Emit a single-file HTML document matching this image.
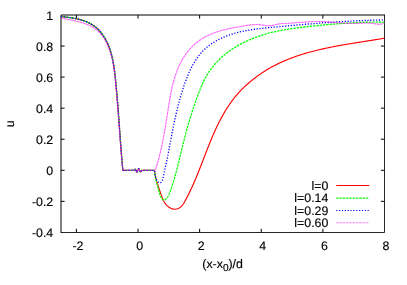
<!DOCTYPE html>
<html><head><meta charset="utf-8"><title>plot</title>
<style>
html,body{margin:0;padding:0;background:#fff;}
svg{display:block}
text{font-family:"Liberation Sans",sans-serif;font-size:12.35px;fill:#000;stroke:#000;stroke-width:0.15;text-rendering:geometricPrecision}
svg{will-change:transform;opacity:0.999}
.r{stroke:#ff0000;stroke-width:1.15;fill:none;stroke-linejoin:round}
.g{stroke:#00ff00;stroke-width:1.3;fill:none;stroke-dasharray:2.3 1.0;stroke-linejoin:round}
.b{stroke:#0000ff;stroke-width:1.3;fill:none;stroke-dasharray:1.2 1.65;stroke-linejoin:round}
.m{stroke:#ff00ff;stroke-width:1.1;fill:none;stroke-dasharray:2.2 1.1;stroke-linejoin:round;stroke-opacity:0.45}
.m0{stroke:#ff00ff;stroke-width:1.1;fill:none;stroke-linejoin:round;stroke-opacity:0.3}
.m1{stroke:#ff00ff;stroke-width:1.1;fill:none;stroke-opacity:0.1}
.f{stroke:#000;stroke-width:1;fill:none}
.f2{stroke:#000;stroke-width:0.85;fill:none}
.lg{stroke-width:1.05}
</style></head>
<body>
<svg width="407" height="285" viewBox="0 0 407 285">
<rect width="407" height="285" fill="#fff"/>
<path class="f" d="M384.5,15.0H61.0V232.4"/><path class="f2" d="M60.55,232.5H384.5V14.5"/>
<path class="f" d="M61.0,46.06h3.6M384.5,46.06h-3.6M61.0,77.11h3.6M384.5,77.11h-3.6M61.0,108.17h3.6M384.5,108.17h-3.6M61.0,139.23h3.6M384.5,139.23h-3.6M61.0,170.29h3.6M384.5,170.29h-3.6M61.0,201.34h3.6M384.5,201.34h-3.6M76.40,232.4v-3.6M76.40,15.0v3.6M138.02,232.4v-3.6M138.02,15.0v3.6M199.64,232.4v-3.6M199.64,15.0v3.6M261.26,232.4v-3.6M261.26,15.0v3.6M322.88,232.4v-3.6M322.88,15.0v3.6"/>
<path class="r" d="M61.00,16.40 L61.98,16.64 L62.94,16.74 L63.92,16.85 L64.90,16.96 L65.89,17.07 L66.88,17.20 L67.88,17.32 L68.88,17.46 L69.89,17.60 L70.90,17.74 L71.91,17.90 L72.92,18.07 L73.93,18.25 L74.93,18.44 L75.94,18.64 L76.94,18.85 L77.95,19.08 L78.94,19.32 L79.93,19.57 L80.92,19.84 L81.90,20.13 L82.87,20.44 L83.83,20.76 L84.79,21.10 L85.73,21.46 L86.67,21.84 L87.59,22.24 L88.50,22.67 L89.40,23.11 L90.28,23.58 L91.15,24.07 L92.00,24.59 L92.84,25.13 L93.66,25.69 L94.47,26.27 L95.26,26.87 L96.03,27.50 L96.78,28.15 L97.52,28.82 L98.23,29.51 L98.93,30.22 L99.61,30.95 L100.27,31.70 L100.91,32.47 L101.53,33.26 L102.14,34.06 L102.73,34.88 L103.30,35.71 L103.85,36.55 L104.38,37.40 L104.90,38.27 L105.40,39.14 L105.88,40.03 L106.35,40.92 L106.80,41.82 L107.24,42.73 L107.66,43.64 L108.06,44.55 L108.45,45.48 L108.82,46.41 L109.18,47.34 L109.53,48.28 L109.86,49.22 L110.18,50.17 L110.49,51.12 L110.78,52.08 L111.06,53.04 L111.33,54.01 L111.59,54.98 L111.84,55.95 L112.08,56.93 L112.31,57.91 L112.53,58.90 L112.74,59.88 L112.94,60.88 L113.13,61.87 L113.31,62.86 L113.49,63.86 L113.66,64.86 L113.82,65.86 L113.97,66.87 L114.12,67.87 L114.26,68.88 L114.40,69.89 L114.53,70.90 L114.65,71.91 L114.78,72.92 L114.90,73.94 L115.01,74.95 L115.12,75.96 L115.23,76.98 L115.33,77.99 L115.44,79.00 L115.54,80.02 L115.64,81.03 L115.74,82.04 L115.84,83.05 L115.93,84.06 L116.03,85.07 L116.13,86.08 L116.22,87.09 L116.31,88.10 L116.40,89.10 L116.50,90.11 L116.59,91.12 L116.68,92.12 L116.76,93.13 L116.85,94.13 L116.94,95.14 L117.02,96.14 L117.11,97.15 L117.19,98.15 L117.28,99.15 L117.36,100.16 L117.44,101.16 L117.53,102.16 L117.61,103.16 L117.69,104.16 L117.77,105.16 L117.85,106.16 L117.93,107.16 L118.00,108.16 L118.08,109.16 L118.16,110.16 L118.24,111.16 L118.31,112.16 L118.39,113.16 L118.46,114.16 L118.54,115.16 L118.62,116.16 L118.69,117.16 L118.76,118.15 L118.84,119.15 L118.91,120.15 L118.99,121.15 L119.06,122.15 L119.13,123.15 L119.21,124.14 L119.28,125.14 L119.35,126.14 L119.43,127.14 L119.50,128.14 L119.57,129.14 L119.64,130.13 L119.72,131.13 L119.79,132.13 L119.86,133.13 L119.94,134.13 L120.01,135.13 L120.08,136.13 L120.16,137.13 L120.23,138.13 L120.30,139.13 L120.38,140.13 L120.45,141.13 L120.53,142.13 L120.60,143.13 L120.68,144.13 L120.75,145.14 L120.83,146.14 L120.90,147.14 L120.98,148.14 L121.06,149.15 L121.14,150.15 L121.21,151.15 L121.29,152.16 L121.37,153.16 L121.45,154.17 L121.53,155.18 L121.61,156.18 L121.69,157.19 L121.78,158.20 L121.86,159.21 L121.94,160.21 L122.03,161.22 L122.11,162.23 L122.20,163.24 L122.28,164.26 L122.37,165.27 L122.46,166.28 L122.55,167.29 L122.64,168.31 L122.73,169.32 L122.80,170.30 L133.90,170.30 L135.30,169.10 L136.90,172.30 L138.70,168.60 L140.50,172.00 L142.10,170.30 L154.40,170.30 L154.54,171.31 L154.68,172.35 L154.85,173.37 L155.02,174.37 L155.22,175.37 L155.43,176.35 L155.65,177.32 L155.88,178.29 L156.12,179.24 L156.38,180.19 L156.65,181.14 L156.92,182.08 L157.21,183.02 L157.50,183.95 L157.80,184.88 L158.11,185.82 L158.42,186.76 L158.74,187.69 L159.06,188.64 L159.38,189.59 L159.71,190.54 L160.04,191.50 L160.37,192.47 L160.71,193.45 L161.04,194.43 L161.39,195.42 L161.74,196.40 L162.12,197.38 L162.51,198.35 L162.92,199.31 L163.36,200.24 L163.83,201.16 L164.33,202.05 L164.87,202.91 L165.45,203.74 L166.07,204.54 L166.74,205.29 L167.47,206.00 L168.24,206.66 L169.07,207.26 L169.94,207.80 L170.84,208.26 L171.77,208.65 L172.72,208.94 L173.69,209.13 L174.66,209.21 L175.62,209.18 L176.57,209.04 L177.49,208.79 L178.36,208.45 L179.18,208.03 L179.95,207.52 L180.68,206.94 L181.36,206.30 L182.01,205.59 L182.62,204.83 L183.20,204.03 L183.76,203.20 L184.29,202.33 L184.81,201.44 L185.31,200.54 L185.80,199.62 L186.29,198.71 L186.77,197.79 L187.25,196.87 L187.72,195.96 L188.19,195.04 L188.65,194.12 L189.10,193.20 L189.55,192.27 L190.00,191.35 L190.44,190.43 L190.88,189.50 L191.31,188.58 L191.74,187.65 L192.16,186.72 L192.58,185.80 L193.00,184.87 L193.41,183.94 L193.82,183.01 L194.22,182.08 L194.63,181.15 L195.02,180.22 L195.42,179.29 L195.81,178.35 L196.20,177.42 L196.59,176.49 L196.97,175.55 L197.36,174.62 L197.74,173.69 L198.11,172.75 L198.49,171.82 L198.86,170.88 L199.24,169.95 L199.61,169.01 L199.97,168.08 L200.34,167.14 L200.71,166.20 L201.07,165.27 L201.44,164.33 L201.80,163.40 L202.16,162.46 L202.52,161.53 L202.88,160.59 L203.24,159.66 L203.60,158.72 L203.96,157.79 L204.32,156.85 L204.68,155.92 L205.04,154.98 L205.41,154.05 L205.77,153.12 L206.13,152.18 L206.49,151.25 L206.85,150.32 L207.22,149.39 L207.58,148.46 L207.95,147.53 L208.32,146.60 L208.69,145.67 L209.06,144.74 L209.44,143.81 L209.81,142.89 L210.19,141.96 L210.57,141.04 L210.95,140.11 L211.33,139.19 L211.72,138.27 L212.11,137.34 L212.50,136.42 L212.90,135.50 L213.29,134.58 L213.70,133.67 L214.10,132.75 L214.51,131.83 L214.92,130.92 L215.34,130.01 L215.75,129.09 L216.18,128.18 L216.60,127.27 L217.04,126.36 L217.47,125.46 L217.91,124.55 L218.36,123.65 L218.81,122.75 L219.26,121.85 L219.72,120.95 L220.18,120.05 L220.65,119.16 L221.12,118.27 L221.60,117.38 L222.09,116.49 L222.58,115.61 L223.07,114.73 L223.57,113.85 L224.08,112.98 L224.59,112.11 L225.11,111.24 L225.63,110.38 L226.16,109.52 L226.70,108.67 L227.24,107.81 L227.78,106.97 L228.34,106.13 L228.90,105.29 L229.47,104.46 L230.04,103.63 L230.62,102.80 L231.21,101.99 L231.80,101.17 L232.40,100.37 L233.01,99.57 L233.62,98.77 L234.25,97.98 L234.87,97.20 L235.51,96.42 L236.16,95.64 L236.81,94.88 L237.47,94.12 L238.13,93.37 L238.80,92.62 L239.48,91.88 L240.17,91.14 L240.86,90.41 L241.56,89.69 L242.26,88.97 L242.98,88.26 L243.69,87.55 L244.42,86.86 L245.15,86.16 L245.88,85.48 L246.63,84.80 L247.37,84.12 L248.13,83.46 L248.89,82.79 L249.65,82.14 L250.42,81.49 L251.20,80.85 L251.98,80.21 L252.76,79.58 L253.56,78.96 L254.35,78.34 L255.15,77.73 L255.96,77.12 L256.77,76.52 L257.59,75.93 L258.41,75.35 L259.23,74.77 L260.06,74.19 L260.89,73.63 L261.73,73.07 L262.57,72.51 L263.42,71.96 L264.27,71.42 L265.12,70.89 L265.98,70.36 L266.84,69.84 L267.70,69.32 L268.57,68.81 L269.44,68.31 L270.32,67.81 L271.19,67.32 L272.07,66.84 L272.96,66.36 L273.85,65.89 L274.74,65.43 L275.63,64.97 L276.52,64.52 L277.42,64.07 L278.32,63.64 L279.23,63.20 L280.13,62.78 L281.04,62.36 L281.95,61.94 L282.86,61.54 L283.78,61.13 L284.70,60.74 L285.62,60.35 L286.54,59.96 L287.47,59.58 L288.40,59.21 L289.33,58.84 L290.26,58.48 L291.19,58.12 L292.13,57.77 L293.07,57.42 L294.01,57.08 L294.95,56.74 L295.90,56.41 L296.84,56.08 L297.79,55.76 L298.74,55.44 L299.69,55.13 L300.65,54.82 L301.60,54.52 L302.56,54.22 L303.52,53.93 L304.48,53.64 L305.44,53.35 L306.41,53.07 L307.37,52.79 L308.34,52.52 L309.31,52.25 L310.28,51.98 L311.25,51.72 L312.22,51.46 L313.20,51.21 L314.17,50.96 L315.15,50.71 L316.12,50.47 L317.10,50.23 L318.08,49.99 L319.06,49.76 L320.05,49.53 L321.03,49.30 L322.01,49.08 L323.00,48.86 L323.99,48.64 L324.97,48.42 L325.96,48.21 L326.95,48.00 L327.94,47.80 L328.93,47.59 L329.92,47.39 L330.91,47.19 L331.90,47.00 L332.89,46.80 L333.89,46.61 L334.88,46.42 L335.88,46.23 L336.87,46.05 L337.87,45.86 L338.86,45.68 L339.86,45.50 L340.85,45.32 L341.85,45.15 L342.85,44.97 L343.84,44.80 L344.84,44.63 L345.84,44.46 L346.83,44.29 L347.83,44.12 L348.83,43.96 L349.82,43.79 L350.82,43.63 L351.82,43.47 L352.81,43.30 L353.81,43.14 L354.81,42.98 L355.80,42.82 L356.80,42.66 L357.79,42.51 L358.79,42.35 L359.78,42.19 L360.78,42.03 L361.77,41.88 L362.76,41.72 L363.76,41.57 L364.75,41.41 L365.74,41.25 L366.73,41.10 L367.72,40.94 L368.71,40.79 L369.70,40.63 L370.69,40.47 L371.67,40.32 L372.66,40.16 L373.65,40.00 L374.63,39.84 L375.61,39.68 L376.59,39.52 L377.58,39.36 L378.56,39.20 L379.53,39.04 L380.51,38.88 L381.49,38.71 L382.46,38.55 L383.44,38.38 L384.50,38.30"/>
<path class="g" d="M61.00,16.40 L61.98,16.64 L62.94,16.74 L63.92,16.85 L64.90,16.96 L65.89,17.07 L66.88,17.20 L67.88,17.32 L68.88,17.46 L69.89,17.60 L70.90,17.74 L71.91,17.90 L72.92,18.07 L73.93,18.25 L74.93,18.44 L75.94,18.64 L76.94,18.85 L77.95,19.08 L78.94,19.32 L79.93,19.57 L80.92,19.84 L81.90,20.13 L82.87,20.44 L83.83,20.76 L84.79,21.10 L85.73,21.46 L86.67,21.84 L87.59,22.24 L88.50,22.67 L89.40,23.11 L90.28,23.58 L91.15,24.07 L92.00,24.59 L92.84,25.13 L93.66,25.69 L94.47,26.27 L95.26,26.87 L96.03,27.50 L96.78,28.15 L97.52,28.82 L98.23,29.51 L98.93,30.22 L99.61,30.95 L100.27,31.70 L100.91,32.47 L101.53,33.26 L102.14,34.06 L102.73,34.88 L103.30,35.71 L103.85,36.55 L104.38,37.40 L104.90,38.27 L105.40,39.14 L105.88,40.03 L106.35,40.92 L106.80,41.82 L107.24,42.73 L107.66,43.64 L108.06,44.55 L108.45,45.48 L108.82,46.41 L109.18,47.34 L109.53,48.28 L109.86,49.22 L110.18,50.17 L110.49,51.12 L110.78,52.08 L111.06,53.04 L111.33,54.01 L111.59,54.98 L111.84,55.95 L112.08,56.93 L112.31,57.91 L112.53,58.90 L112.74,59.88 L112.94,60.88 L113.13,61.87 L113.31,62.86 L113.49,63.86 L113.66,64.86 L113.82,65.86 L113.97,66.87 L114.12,67.87 L114.26,68.88 L114.40,69.89 L114.53,70.90 L114.65,71.91 L114.78,72.92 L114.90,73.94 L115.01,74.95 L115.12,75.96 L115.23,76.98 L115.33,77.99 L115.44,79.00 L115.54,80.02 L115.64,81.03 L115.74,82.04 L115.84,83.05 L115.93,84.06 L116.03,85.07 L116.13,86.08 L116.22,87.09 L116.31,88.10 L116.40,89.10 L116.50,90.11 L116.59,91.12 L116.68,92.12 L116.76,93.13 L116.85,94.13 L116.94,95.14 L117.02,96.14 L117.11,97.15 L117.19,98.15 L117.28,99.15 L117.36,100.16 L117.44,101.16 L117.53,102.16 L117.61,103.16 L117.69,104.16 L117.77,105.16 L117.85,106.16 L117.93,107.16 L118.00,108.16 L118.08,109.16 L118.16,110.16 L118.24,111.16 L118.31,112.16 L118.39,113.16 L118.46,114.16 L118.54,115.16 L118.62,116.16 L118.69,117.16 L118.76,118.15 L118.84,119.15 L118.91,120.15 L118.99,121.15 L119.06,122.15 L119.13,123.15 L119.21,124.14 L119.28,125.14 L119.35,126.14 L119.43,127.14 L119.50,128.14 L119.57,129.14 L119.64,130.13 L119.72,131.13 L119.79,132.13 L119.86,133.13 L119.94,134.13 L120.01,135.13 L120.08,136.13 L120.16,137.13 L120.23,138.13 L120.30,139.13 L120.38,140.13 L120.45,141.13 L120.53,142.13 L120.60,143.13 L120.68,144.13 L120.75,145.14 L120.83,146.14 L120.90,147.14 L120.98,148.14 L121.06,149.15 L121.14,150.15 L121.21,151.15 L121.29,152.16 L121.37,153.16 L121.45,154.17 L121.53,155.18 L121.61,156.18 L121.69,157.19 L121.78,158.20 L121.86,159.21 L121.94,160.21 L122.03,161.22 L122.11,162.23 L122.20,163.24 L122.28,164.26 L122.37,165.27 L122.46,166.28 L122.55,167.29 L122.64,168.31 L122.73,169.32 L122.80,170.30 L133.90,170.30 L135.30,169.10 L136.90,172.30 L138.70,168.60 L140.50,172.00 L142.10,170.30 L154.40,170.30 L154.50,171.30 L154.61,172.30 L154.74,173.30 L154.88,174.29 L155.04,175.29 L155.22,176.28 L155.40,177.27 L155.60,178.25 L155.81,179.24 L156.03,180.22 L156.26,181.20 L156.50,182.17 L156.74,183.15 L156.99,184.12 L157.24,185.09 L157.50,186.06 L157.76,187.02 L158.03,187.99 L158.29,188.95 L158.56,189.91 L158.82,190.86 L159.08,191.82 L159.35,192.77 L159.64,193.73 L159.96,194.71 L160.32,195.70 L160.74,196.71 L161.23,197.74 L161.79,198.72 L162.43,199.51 L163.16,199.97 L163.95,200.04 L164.78,199.77 L165.59,199.27 L166.36,198.62 L167.03,197.89 L167.63,197.10 L168.15,196.27 L168.62,195.40 L169.03,194.49 L169.41,193.56 L169.77,192.62 L170.12,191.67 L170.46,190.72 L170.79,189.76 L171.12,188.80 L171.44,187.85 L171.76,186.89 L172.08,185.93 L172.39,184.97 L172.69,184.00 L173.00,183.04 L173.30,182.07 L173.59,181.11 L173.88,180.14 L174.17,179.17 L174.45,178.20 L174.73,177.23 L175.01,176.26 L175.28,175.28 L175.55,174.31 L175.82,173.34 L176.09,172.36 L176.35,171.39 L176.61,170.41 L176.87,169.43 L177.12,168.46 L177.37,167.48 L177.63,166.50 L177.87,165.52 L178.12,164.54 L178.37,163.56 L178.61,162.58 L178.85,161.60 L179.09,160.62 L179.33,159.64 L179.57,158.66 L179.81,157.68 L180.05,156.70 L180.28,155.72 L180.52,154.74 L180.75,153.77 L180.99,152.79 L181.22,151.81 L181.46,150.83 L181.69,149.85 L181.93,148.87 L182.16,147.90 L182.40,146.92 L182.63,145.94 L182.87,144.97 L183.10,143.99 L183.34,143.02 L183.58,142.05 L183.82,141.07 L184.06,140.10 L184.30,139.13 L184.55,138.16 L184.79,137.19 L185.04,136.23 L185.29,135.26 L185.54,134.29 L185.79,133.33 L186.05,132.37 L186.30,131.41 L186.56,130.45 L186.82,129.49 L187.09,128.53 L187.36,127.57 L187.62,126.62 L187.90,125.66 L188.17,124.71 L188.45,123.76 L188.73,122.80 L189.01,121.85 L189.29,120.90 L189.58,119.95 L189.86,119.00 L190.16,118.05 L190.45,117.10 L190.74,116.16 L191.04,115.21 L191.34,114.26 L191.65,113.31 L191.95,112.36 L192.26,111.41 L192.57,110.47 L192.89,109.52 L193.20,108.57 L193.52,107.62 L193.84,106.67 L194.17,105.72 L194.49,104.77 L194.82,103.82 L195.15,102.87 L195.49,101.92 L195.82,100.96 L196.16,100.01 L196.51,99.05 L196.85,98.10 L197.20,97.14 L197.55,96.18 L197.90,95.23 L198.26,94.27 L198.62,93.31 L198.98,92.35 L199.35,91.39 L199.72,90.43 L200.10,89.47 L200.48,88.52 L200.87,87.57 L201.26,86.62 L201.66,85.67 L202.07,84.73 L202.49,83.80 L202.91,82.86 L203.34,81.94 L203.78,81.02 L204.23,80.10 L204.69,79.19 L205.16,78.29 L205.63,77.40 L206.12,76.51 L206.62,75.63 L207.13,74.77 L207.65,73.91 L208.19,73.06 L208.73,72.21 L209.28,71.38 L209.85,70.56 L210.43,69.74 L211.01,68.94 L211.61,68.14 L212.22,67.35 L212.83,66.57 L213.46,65.80 L214.10,65.04 L214.74,64.29 L215.40,63.54 L216.06,62.81 L216.74,62.08 L217.42,61.36 L218.11,60.65 L218.82,59.95 L219.53,59.26 L220.24,58.58 L220.97,57.90 L221.71,57.23 L222.45,56.57 L223.20,55.92 L223.96,55.28 L224.73,54.65 L225.50,54.02 L226.28,53.40 L227.07,52.80 L227.87,52.19 L228.67,51.60 L229.48,51.02 L230.29,50.44 L231.12,49.87 L231.95,49.31 L232.78,48.76 L233.62,48.22 L234.47,47.68 L235.32,47.15 L236.18,46.63 L237.05,46.12 L237.92,45.62 L238.79,45.12 L239.67,44.63 L240.56,44.15 L241.45,43.68 L242.34,43.21 L243.24,42.75 L244.15,42.30 L245.06,41.86 L245.97,41.43 L246.89,41.00 L247.81,40.58 L248.73,40.17 L249.66,39.76 L250.59,39.37 L251.52,38.98 L252.46,38.59 L253.40,38.22 L254.35,37.85 L255.29,37.49 L256.24,37.14 L257.19,36.79 L258.15,36.45 L259.10,36.12 L260.06,35.80 L261.02,35.48 L261.98,35.17 L262.95,34.87 L263.91,34.57 L264.88,34.29 L265.85,34.00 L266.82,33.73 L267.79,33.46 L268.76,33.20 L269.73,32.95 L270.70,32.70 L271.68,32.46 L272.65,32.22 L273.63,31.99 L274.61,31.76 L275.59,31.55 L276.57,31.33 L277.55,31.12 L278.53,30.92 L279.51,30.72 L280.49,30.53 L281.48,30.34 L282.46,30.16 L283.45,29.98 L284.44,29.81 L285.42,29.64 L286.41,29.47 L287.40,29.31 L288.39,29.15 L289.38,28.99 L290.37,28.84 L291.36,28.70 L292.35,28.55 L293.35,28.41 L294.34,28.27 L295.33,28.14 L296.33,28.00 L297.32,27.87 L298.32,27.75 L299.31,27.62 L300.31,27.50 L301.31,27.38 L302.30,27.26 L303.30,27.14 L304.30,27.02 L305.29,26.91 L306.29,26.80 L307.29,26.69 L308.29,26.57 L309.29,26.46 L310.28,26.36 L311.28,26.25 L312.28,26.14 L313.28,26.03 L314.28,25.93 L315.28,25.82 L316.28,25.72 L317.28,25.62 L318.28,25.51 L319.28,25.41 L320.28,25.31 L321.28,25.22 L322.28,25.12 L323.28,25.02 L324.28,24.92 L325.28,24.83 L326.28,24.74 L327.28,24.64 L328.28,24.55 L329.28,24.46 L330.28,24.38 L331.29,24.29 L332.29,24.20 L333.29,24.12 L334.29,24.03 L335.29,23.95 L336.30,23.87 L337.30,23.79 L338.30,23.72 L339.30,23.64 L340.30,23.56 L341.31,23.49 L342.31,23.42 L343.31,23.35 L344.32,23.28 L345.32,23.22 L346.32,23.15 L347.32,23.09 L348.33,23.03 L349.33,22.97 L350.33,22.91 L351.34,22.85 L352.34,22.80 L353.35,22.74 L354.35,22.69 L355.35,22.64 L356.36,22.60 L357.36,22.55 L358.37,22.51 L359.37,22.47 L360.37,22.43 L361.38,22.39 L362.38,22.36 L363.39,22.32 L364.39,22.29 L365.40,22.26 L366.40,22.24 L367.41,22.21 L368.41,22.19 L369.42,22.17 L370.42,22.15 L371.43,22.14 L372.43,22.13 L373.44,22.12 L374.44,22.11 L375.45,22.10 L376.46,22.10 L377.46,22.10 L378.47,22.10 L379.47,22.10 L380.48,22.11 L381.48,22.12 L382.49,22.13 L383.50,22.14 L384.50,22.10"/>
<path class="b" d="M61.00,16.40 L61.98,16.64 L62.94,16.74 L63.92,16.85 L64.90,16.96 L65.89,17.07 L66.88,17.20 L67.88,17.32 L68.88,17.46 L69.89,17.60 L70.90,17.74 L71.91,17.90 L72.92,18.07 L73.93,18.25 L74.93,18.44 L75.94,18.64 L76.94,18.85 L77.95,19.08 L78.94,19.32 L79.93,19.57 L80.92,19.84 L81.90,20.13 L82.87,20.44 L83.83,20.76 L84.79,21.10 L85.73,21.46 L86.67,21.84 L87.59,22.24 L88.50,22.67 L89.40,23.11 L90.28,23.58 L91.15,24.07 L92.00,24.59 L92.84,25.13 L93.66,25.69 L94.47,26.27 L95.26,26.87 L96.03,27.50 L96.78,28.15 L97.52,28.82 L98.23,29.51 L98.93,30.22 L99.61,30.95 L100.27,31.70 L100.91,32.47 L101.53,33.26 L102.14,34.06 L102.73,34.88 L103.30,35.71 L103.85,36.55 L104.38,37.40 L104.90,38.27 L105.40,39.14 L105.88,40.03 L106.35,40.92 L106.80,41.82 L107.24,42.73 L107.66,43.64 L108.06,44.55 L108.45,45.48 L108.82,46.41 L109.18,47.34 L109.53,48.28 L109.86,49.22 L110.18,50.17 L110.49,51.12 L110.78,52.08 L111.06,53.04 L111.33,54.01 L111.59,54.98 L111.84,55.95 L112.08,56.93 L112.31,57.91 L112.53,58.90 L112.74,59.88 L112.94,60.88 L113.13,61.87 L113.31,62.86 L113.49,63.86 L113.66,64.86 L113.82,65.86 L113.97,66.87 L114.12,67.87 L114.26,68.88 L114.40,69.89 L114.53,70.90 L114.65,71.91 L114.78,72.92 L114.90,73.94 L115.01,74.95 L115.12,75.96 L115.23,76.98 L115.33,77.99 L115.44,79.00 L115.54,80.02 L115.64,81.03 L115.74,82.04 L115.84,83.05 L115.93,84.06 L116.03,85.07 L116.13,86.08 L116.22,87.09 L116.31,88.10 L116.40,89.10 L116.50,90.11 L116.59,91.12 L116.68,92.12 L116.76,93.13 L116.85,94.13 L116.94,95.14 L117.02,96.14 L117.11,97.15 L117.19,98.15 L117.28,99.15 L117.36,100.16 L117.44,101.16 L117.53,102.16 L117.61,103.16 L117.69,104.16 L117.77,105.16 L117.85,106.16 L117.93,107.16 L118.00,108.16 L118.08,109.16 L118.16,110.16 L118.24,111.16 L118.31,112.16 L118.39,113.16 L118.46,114.16 L118.54,115.16 L118.62,116.16 L118.69,117.16 L118.76,118.15 L118.84,119.15 L118.91,120.15 L118.99,121.15 L119.06,122.15 L119.13,123.15 L119.21,124.14 L119.28,125.14 L119.35,126.14 L119.43,127.14 L119.50,128.14 L119.57,129.14 L119.64,130.13 L119.72,131.13 L119.79,132.13 L119.86,133.13 L119.94,134.13 L120.01,135.13 L120.08,136.13 L120.16,137.13 L120.23,138.13 L120.30,139.13 L120.38,140.13 L120.45,141.13 L120.53,142.13 L120.60,143.13 L120.68,144.13 L120.75,145.14 L120.83,146.14 L120.90,147.14 L120.98,148.14 L121.06,149.15 L121.14,150.15 L121.21,151.15 L121.29,152.16 L121.37,153.16 L121.45,154.17 L121.53,155.18 L121.61,156.18 L121.69,157.19 L121.78,158.20 L121.86,159.21 L121.94,160.21 L122.03,161.22 L122.11,162.23 L122.20,163.24 L122.28,164.26 L122.37,165.27 L122.46,166.28 L122.55,167.29 L122.64,168.31 L122.73,169.32 L122.80,170.30 L133.90,170.30 L135.30,169.10 L136.90,172.30 L138.70,168.60 L140.50,172.00 L142.10,170.30 L154.40,170.30 L154.59,171.15 L154.76,172.07 L154.91,173.06 L155.06,174.10 L155.23,175.18 L155.43,176.26 L155.68,177.34 L155.99,178.39 L156.36,179.39 L156.83,180.34 L157.40,181.20 L158.06,181.93 L158.78,182.49 L159.53,182.81 L160.25,182.83 L160.93,182.51 L161.53,181.91 L162.02,181.13 L162.40,180.23 L162.70,179.25 L162.96,178.22 L163.20,177.18 L163.43,176.15 L163.67,175.12 L163.90,174.09 L164.12,173.07 L164.35,172.06 L164.57,171.04 L164.79,170.04 L165.00,169.03 L165.22,168.03 L165.43,167.03 L165.64,166.04 L165.85,165.05 L166.06,164.06 L166.26,163.07 L166.46,162.08 L166.66,161.10 L166.86,160.12 L167.06,159.14 L167.26,158.16 L167.45,157.18 L167.65,156.21 L167.84,155.23 L168.03,154.25 L168.22,153.28 L168.41,152.30 L168.60,151.33 L168.79,150.35 L168.98,149.37 L169.17,148.40 L169.36,147.42 L169.54,146.44 L169.73,145.46 L169.92,144.49 L170.10,143.51 L170.29,142.53 L170.48,141.55 L170.66,140.58 L170.85,139.60 L171.04,138.62 L171.22,137.64 L171.41,136.67 L171.60,135.69 L171.79,134.71 L171.98,133.73 L172.17,132.76 L172.36,131.78 L172.55,130.80 L172.75,129.82 L172.94,128.85 L173.14,127.87 L173.33,126.89 L173.53,125.92 L173.73,124.94 L173.93,123.96 L174.14,122.99 L174.34,122.01 L174.55,121.03 L174.75,120.06 L174.96,119.08 L175.18,118.11 L175.39,117.13 L175.61,116.16 L175.82,115.18 L176.05,114.21 L176.27,113.24 L176.49,112.26 L176.72,111.29 L176.95,110.32 L177.19,109.35 L177.42,108.37 L177.66,107.40 L177.91,106.43 L178.15,105.46 L178.40,104.49 L178.65,103.52 L178.91,102.55 L179.16,101.58 L179.43,100.61 L179.69,99.65 L179.96,98.68 L180.23,97.71 L180.51,96.74 L180.79,95.78 L181.07,94.81 L181.36,93.85 L181.66,92.89 L181.95,91.92 L182.25,90.96 L182.56,90.00 L182.87,89.03 L183.18,88.07 L183.50,87.11 L183.82,86.15 L184.15,85.20 L184.49,84.24 L184.82,83.28 L185.17,82.32 L185.52,81.37 L185.87,80.41 L186.23,79.46 L186.59,78.51 L186.96,77.56 L187.34,76.61 L187.73,75.67 L188.12,74.73 L188.52,73.79 L188.92,72.86 L189.33,71.93 L189.75,71.01 L190.18,70.09 L190.62,69.18 L191.06,68.27 L191.52,67.37 L191.98,66.48 L192.45,65.59 L192.93,64.70 L193.42,63.83 L193.92,62.96 L194.43,62.10 L194.96,61.25 L195.49,60.41 L196.03,59.58 L196.58,58.76 L197.15,57.94 L197.72,57.14 L198.31,56.34 L198.91,55.56 L199.52,54.79 L200.14,54.03 L200.78,53.28 L201.43,52.54 L202.09,51.81 L202.77,51.10 L203.45,50.40 L204.16,49.72 L204.87,49.04 L205.60,48.38 L206.34,47.74 L207.10,47.10 L207.86,46.48 L208.64,45.87 L209.43,45.27 L210.23,44.69 L211.04,44.12 L211.87,43.56 L212.70,43.01 L213.54,42.48 L214.39,41.95 L215.25,41.44 L216.12,40.94 L217.00,40.46 L217.88,39.98 L218.78,39.51 L219.68,39.06 L220.59,38.62 L221.50,38.19 L222.43,37.77 L223.36,37.36 L224.29,36.96 L225.23,36.57 L226.17,36.19 L227.13,35.82 L228.08,35.47 L229.04,35.12 L230.00,34.78 L230.97,34.46 L231.94,34.14 L232.91,33.83 L233.89,33.54 L234.86,33.25 L235.84,32.97 L236.83,32.70 L237.81,32.44 L238.79,32.20 L239.78,31.95 L240.76,31.72 L241.75,31.50 L242.73,31.29 L243.72,31.08 L244.71,30.88 L245.69,30.69 L246.68,30.50 L247.67,30.33 L248.65,30.16 L249.64,29.99 L250.63,29.84 L251.62,29.68 L252.61,29.54 L253.60,29.40 L254.59,29.26 L255.58,29.13 L256.57,29.00 L257.56,28.88 L258.55,28.76 L259.54,28.64 L260.53,28.53 L261.52,28.42 L262.52,28.31 L263.51,28.20 L264.50,28.10 L265.49,27.99 L266.49,27.89 L267.48,27.79 L268.47,27.69 L269.47,27.60 L270.46,27.50 L271.45,27.40 L272.45,27.30 L273.44,27.20 L274.44,27.11 L275.43,27.01 L276.43,26.91 L277.42,26.82 L278.42,26.72 L279.42,26.62 L280.41,26.53 L281.41,26.43 L282.41,26.34 L283.40,26.24 L284.40,26.15 L285.40,26.06 L286.39,25.96 L287.39,25.87 L288.39,25.78 L289.39,25.69 L290.38,25.59 L291.38,25.50 L292.38,25.41 L293.38,25.32 L294.38,25.23 L295.38,25.14 L296.38,25.05 L297.37,24.96 L298.37,24.88 L299.37,24.79 L300.37,24.70 L301.37,24.61 L302.37,24.53 L303.37,24.44 L304.37,24.36 L305.37,24.27 L306.37,24.19 L307.37,24.10 L308.37,24.02 L309.37,23.94 L310.37,23.86 L311.38,23.78 L312.38,23.69 L313.38,23.61 L314.38,23.53 L315.38,23.46 L316.38,23.38 L317.38,23.30 L318.38,23.22 L319.39,23.15 L320.39,23.07 L321.39,22.99 L322.39,22.92 L323.39,22.85 L324.39,22.77 L325.40,22.70 L326.40,22.63 L327.40,22.56 L328.40,22.49 L329.40,22.42 L330.41,22.35 L331.41,22.28 L332.41,22.21 L333.41,22.14 L334.41,22.08 L335.42,22.01 L336.42,21.95 L337.42,21.88 L338.42,21.82 L339.43,21.76 L340.43,21.70 L341.43,21.64 L342.43,21.58 L343.44,21.52 L344.44,21.46 L345.44,21.40 L346.44,21.34 L347.44,21.29 L348.45,21.23 L349.45,21.18 L350.45,21.13 L351.45,21.07 L352.46,21.02 L353.46,20.97 L354.46,20.92 L355.46,20.87 L356.46,20.83 L357.47,20.78 L358.47,20.73 L359.47,20.69 L360.47,20.64 L361.47,20.60 L362.48,20.56 L363.48,20.52 L364.48,20.48 L365.48,20.44 L366.48,20.40 L367.48,20.36 L368.48,20.33 L369.48,20.29 L370.49,20.26 L371.49,20.22 L372.49,20.19 L373.49,20.16 L374.49,20.13 L375.49,20.10 L376.49,20.07 L377.49,20.05 L378.49,20.02 L379.49,20.00 L380.49,19.97 L381.49,19.95 L382.49,19.93 L383.49,19.91 L384.50,19.80"/>
<path class="m0" d="M61.00,17.80 L61.99,18.03 L62.94,18.26 L63.89,18.49 L64.85,18.71 L65.82,18.92 L66.79,19.13 L67.77,19.34 L68.76,19.55 L69.75,19.76 L70.74,19.96 L71.73,20.17 L72.73,20.38 L73.73,20.60 L74.73,20.82 L75.73,21.04 L76.72,21.28 L77.72,21.52 L78.71,21.77 L79.70,22.03 L80.69,22.30 L81.67,22.58 L82.64,22.88 L83.61,23.19 L84.58,23.51 L85.53,23.86 L86.48,24.22 L87.41,24.59 L88.34,24.99 L89.26,25.41 L90.16,25.85 L91.06,26.31 L91.94,26.80 L92.80,27.30 L93.65,27.83 L94.49,28.39 L95.30,28.96 L96.10,29.56 L96.88,30.18 L97.65,30.83 L98.39,31.49 L99.10,32.19 L99.80,32.90 L100.47,33.64 L101.13,34.40 L101.76,35.18 L102.37,35.98 L102.95,36.80 L103.52,37.63 L104.07,38.47 L104.60,39.33 L105.11,40.20 L105.61,41.08 L106.08,41.97 L106.54,42.87 L106.98,43.77 L107.41,44.68 L107.82,45.59 L108.21,46.51 L108.59,47.44 L108.95,48.37 L109.30,49.31 L109.64,50.25 L109.96,51.19 L110.27,52.14 L110.57,53.10 L110.86,54.06 L111.13,55.03 L111.39,55.99 L111.64,56.97 L111.88,57.94 L112.11,58.92 L112.33,59.91 L112.54,60.89 L112.74,61.88 L112.93,62.87 L113.11,63.87 L113.29,64.86 L113.46,65.86 L113.62,66.87 L113.77,67.87 L113.92,68.87 L114.06,69.88 L114.20,70.89 L114.33,71.90 L114.46,72.91 L114.58,73.92 L114.70,74.93 L114.81,75.94 L114.92,76.95 L115.03,77.97 L115.14,78.98 L115.24,79.99 L115.34,81.00 L115.44,82.01 L115.54,83.02 L115.64,84.03 L115.74,85.04 L115.84,86.05 L115.93,87.06 L116.02,88.07 L116.12,89.08 L116.21,90.08 L116.30,91.09 L116.39,92.10 L116.48,93.10 L116.56,94.11 L116.65,95.11 L116.74,96.12 L116.82,97.12 L116.91,98.13 L116.99,99.13 L117.07,100.14 L117.15,101.14 L117.23,102.14 L117.32,103.14 L117.39,104.15 L117.47,105.15 L117.55,106.15 L117.63,107.15 L117.71,108.15 L117.79,109.15 L117.86,110.15 L117.94,111.15 L118.02,112.16 L118.09,113.16 L118.17,114.16 L118.24,115.16 L118.32,116.16 L118.39,117.16 L118.46,118.16 L118.54,119.16 L118.61,120.16 L118.69,121.15 L118.76,122.15 L118.83,123.15 L118.91,124.15 L118.98,125.15 L119.06,126.15 L119.13,127.15 L119.20,128.15 L119.28,129.15 L119.35,130.15 L119.43,131.15 L119.50,132.15 L119.58,133.15 L119.65,134.15 L119.73,135.15 L119.80,136.15 L119.88,137.15 L119.96,138.15 L120.03,139.15 L120.11,140.15 L120.19,141.15 L120.27,142.16 L120.35,143.16 L120.43,144.16 L120.51,145.16 L120.59,146.16 L120.67,147.17 L120.75,148.17 L120.84,149.17 L120.92,150.17 L121.01,151.18 L121.09,152.18 L121.18,153.19 L121.27,154.19 L121.36,155.20 L121.45,156.20 L121.54,157.21 L121.63,158.22 L121.72,159.22 L121.81,160.23 L121.91,161.24 L122.01,162.25 L122.10,163.25 L122.20,164.26 L122.30,165.27 L122.40,166.28 L122.51,167.29 L122.61,168.31 L122.71,169.32 L122.80,170.30 L133.90,170.30 L135.30,169.10 L136.90,172.30 L138.70,168.60 L140.50,172.00 L142.10,170.30 L155.10,170.30 L155.59,169.46 L155.90,168.47 L156.20,167.48 L156.50,166.49 L156.80,165.51 L157.09,164.52 L157.38,163.54 L157.66,162.56 L157.93,161.58 L158.21,160.60 L158.47,159.62 L158.73,158.64 L158.99,157.66 L159.25,156.68 L159.50,155.71 L159.74,154.73 L159.98,153.76 L160.22,152.78 L160.45,151.81 L160.68,150.83 L160.91,149.86 L161.13,148.89 L161.35,147.91 L161.56,146.94 L161.78,145.97 L161.98,144.99 L162.19,144.02 L162.39,143.05 L162.59,142.08 L162.79,141.10 L162.98,140.13 L163.17,139.15 L163.36,138.18 L163.55,137.20 L163.73,136.23 L163.91,135.25 L164.09,134.27 L164.27,133.29 L164.44,132.31 L164.62,131.33 L164.79,130.35 L164.96,129.37 L165.12,128.39 L165.29,127.40 L165.45,126.42 L165.62,125.43 L165.78,124.44 L165.94,123.45 L166.10,122.46 L166.25,121.47 L166.41,120.47 L166.57,119.48 L166.72,118.48 L166.88,117.48 L167.03,116.48 L167.18,115.47 L167.34,114.47 L167.49,113.46 L167.64,112.45 L167.80,111.44 L167.95,110.43 L168.10,109.41 L168.26,108.40 L168.42,107.39 L168.57,106.37 L168.73,105.36 L168.89,104.34 L169.06,103.32 L169.22,102.31 L169.39,101.29 L169.56,100.27 L169.74,99.26 L169.92,98.24 L170.10,97.23 L170.28,96.22 L170.47,95.21 L170.66,94.19 L170.86,93.18 L171.06,92.18 L171.27,91.17 L171.48,90.17 L171.69,89.16 L171.91,88.16 L172.14,87.16 L172.37,86.17 L172.61,85.17 L172.86,84.18 L173.11,83.20 L173.37,82.21 L173.63,81.23 L173.91,80.25 L174.19,79.28 L174.47,78.31 L174.77,77.34 L175.07,76.38 L175.38,75.42 L175.70,74.46 L176.03,73.51 L176.37,72.57 L176.72,71.63 L177.07,70.69 L177.44,69.76 L177.82,68.83 L178.20,67.91 L178.60,67.00 L179.01,66.09 L179.42,65.18 L179.85,64.28 L180.29,63.39 L180.74,62.51 L181.20,61.63 L181.68,60.76 L182.16,59.89 L182.66,59.03 L183.17,58.18 L183.70,57.33 L184.23,56.50 L184.78,55.67 L185.35,54.84 L185.92,54.03 L186.51,53.22 L187.12,52.42 L187.73,51.64 L188.36,50.86 L189.01,50.09 L189.66,49.33 L190.33,48.58 L191.01,47.84 L191.70,47.11 L192.41,46.40 L193.13,45.69 L193.86,45.00 L194.60,44.33 L195.36,43.66 L196.12,43.01 L196.90,42.37 L197.69,41.75 L198.50,41.14 L199.31,40.55 L200.13,39.98 L200.97,39.41 L201.81,38.87 L202.67,38.34 L203.53,37.82 L204.41,37.31 L205.29,36.83 L206.18,36.35 L207.08,35.89 L207.99,35.44 L208.91,35.01 L209.83,34.59 L210.76,34.19 L211.69,33.79 L212.64,33.42 L213.58,33.05 L214.54,32.70 L215.49,32.35 L216.46,32.02 L217.43,31.71 L218.40,31.40 L219.37,31.10 L220.35,30.81 L221.34,30.54 L222.32,30.27 L223.31,30.01 L224.30,29.76 L225.29,29.52 L226.29,29.28 L227.28,29.05 L228.28,28.83 L229.28,28.62 L230.28,28.41 L231.27,28.21 L232.27,28.01 L233.27,27.82 L234.27,27.63 L235.26,27.44 L236.26,27.26 L237.25,27.08 L238.24,26.91 L239.23,26.73 L240.22,26.56 L241.20,26.39 L242.18,26.22 L243.16,26.05 L244.13,25.88 L245.10,25.71 L246.06,25.54 L247.10,25.40 L248.10,25.27 L249.10,25.13 L250.10,25.00 L251.10,24.88 L252.10,24.77 L253.11,24.68 L254.12,24.60 L255.12,24.55 L256.13,24.52 L257.14,24.51 L258.14,24.54 L259.15,24.60 L260.15,24.70 L261.16,24.83 L262.16,25.00 L263.16,25.18 L264.16,25.35 L265.16,25.50 L266.16,25.62 L267.16,25.68 L268.16,25.70 L269.16,25.67 L270.16,25.59 L271.16,25.48 L272.16,25.34 L273.15,25.17 L274.15,24.98 L275.14,24.77 L276.12,24.55 L277.11,24.32 L278.09,24.09 L279.07,23.89 L280.06,23.72 L281.05,23.61 L282.05,23.53 L283.05,23.49 L284.06,23.47 L285.06,23.47 L286.07,23.46 L287.08,23.43 L288.09,23.38 L289.10,23.31 L290.10,23.22 L291.11,23.12 L292.11,23.01 L293.12,22.90 L294.12,22.80 L295.12,22.71 L296.13,22.63 L297.13,22.56 L298.13,22.49 L299.14,22.44 L300.14,22.38 L301.15,22.33 L302.15,22.27 L303.16,22.21 L304.16,22.14 L305.17,22.08 L306.18,22.01 L307.19,21.94 L308.19,21.87 L309.20,21.80 L310.21,21.73 L311.22,21.67 L312.22,21.61 L313.23,21.56 L314.24,21.52 L315.25,21.49 L316.26,21.46 L317.26,21.45 L318.27,21.44 L319.28,21.45 L320.29,21.47 L321.29,21.50 L322.30,21.53 L323.31,21.58 L324.31,21.63 L325.32,21.69 L326.33,21.75 L327.33,21.82 L328.34,21.89 L329.34,21.97 L330.35,22.05 L331.35,22.14 L332.36,22.22 L333.36,22.31 L334.37,22.40 L335.37,22.49 L336.38,22.57 L337.38,22.66 L338.39,22.75 L339.39,22.83 L340.39,22.91 L341.40,22.98 L342.40,23.06 L343.41,23.12 L344.41,23.18 L345.41,23.24 L346.42,23.29 L347.42,23.34 L348.43,23.37 L349.43,23.40 L350.44,23.42 L351.44,23.44 L352.45,23.44 L353.46,23.44 L354.47,23.43 L355.48,23.40 L356.48,23.37 L357.49,23.33 L358.51,23.29 L359.52,23.24 L360.53,23.19 L361.54,23.15 L362.55,23.10 L363.56,23.07 L364.57,23.04 L365.57,23.02 L366.58,23.01 L367.59,23.02 L368.59,23.05 L369.59,23.09 L370.59,23.16 L371.59,23.24 L372.59,23.36 L373.59,23.50 L374.58,23.67 L375.57,23.85 L376.56,24.01 L377.55,24.13 L378.54,24.19 L379.54,24.19 L380.53,24.12 L381.53,23.98 L382.52,23.78 L383.51,23.51 L384.50,23.20"/>
<path class="m" d="M61.00,17.80 L61.99,18.03 L62.94,18.26 L63.89,18.49 L64.85,18.71 L65.82,18.92 L66.79,19.13 L67.77,19.34 L68.76,19.55 L69.75,19.76 L70.74,19.96 L71.73,20.17 L72.73,20.38 L73.73,20.60 L74.73,20.82 L75.73,21.04 L76.72,21.28 L77.72,21.52 L78.71,21.77 L79.70,22.03 L80.69,22.30 L81.67,22.58 L82.64,22.88 L83.61,23.19 L84.58,23.51 L85.53,23.86 L86.48,24.22 L87.41,24.59 L88.34,24.99 L89.26,25.41 L90.16,25.85 L91.06,26.31 L91.94,26.80 L92.80,27.30 L93.65,27.83 L94.49,28.39 L95.30,28.96 L96.10,29.56 L96.88,30.18 L97.65,30.83 L98.39,31.49 L99.10,32.19 L99.80,32.90 L100.47,33.64 L101.13,34.40 L101.76,35.18 L102.37,35.98 L102.95,36.80 L103.52,37.63 L104.07,38.47 L104.60,39.33 L105.11,40.20 L105.61,41.08 L106.08,41.97 L106.54,42.87 L106.98,43.77 L107.41,44.68 L107.82,45.59 L108.21,46.51 L108.59,47.44 L108.95,48.37 L109.30,49.31 L109.64,50.25 L109.96,51.19 L110.27,52.14 L110.57,53.10 L110.86,54.06 L111.13,55.03 L111.39,55.99 L111.64,56.97 L111.88,57.94 L112.11,58.92 L112.33,59.91 L112.54,60.89 L112.74,61.88 L112.93,62.87 L113.11,63.87 L113.29,64.86 L113.46,65.86 L113.62,66.87 L113.77,67.87 L113.92,68.87 L114.06,69.88 L114.20,70.89 L114.33,71.90 L114.46,72.91 L114.58,73.92 L114.70,74.93 L114.81,75.94 L114.92,76.95 L115.03,77.97 L115.14,78.98 L115.24,79.99 L115.34,81.00 L115.44,82.01 L115.54,83.02 L115.64,84.03 L115.74,85.04 L115.84,86.05 L115.93,87.06 L116.02,88.07 L116.12,89.08 L116.21,90.08 L116.30,91.09 L116.39,92.10 L116.48,93.10 L116.56,94.11 L116.65,95.11 L116.74,96.12 L116.82,97.12 L116.91,98.13 L116.99,99.13 L117.07,100.14 L117.15,101.14 L117.23,102.14 L117.32,103.14 L117.39,104.15 L117.47,105.15 L117.55,106.15 L117.63,107.15 L117.71,108.15 L117.79,109.15 L117.86,110.15 L117.94,111.15 L118.02,112.16 L118.09,113.16 L118.17,114.16 L118.24,115.16 L118.32,116.16 L118.39,117.16 L118.46,118.16 L118.54,119.16 L118.61,120.16 L118.69,121.15 L118.76,122.15 L118.83,123.15 L118.91,124.15 L118.98,125.15 L119.06,126.15 L119.13,127.15 L119.20,128.15 L119.28,129.15 L119.35,130.15 L119.43,131.15 L119.50,132.15 L119.58,133.15 L119.65,134.15 L119.73,135.15 L119.80,136.15 L119.88,137.15 L119.96,138.15 L120.03,139.15 L120.11,140.15 L120.19,141.15 L120.27,142.16 L120.35,143.16 L120.43,144.16 L120.51,145.16 L120.59,146.16 L120.67,147.17 L120.75,148.17 L120.84,149.17 L120.92,150.17 L121.01,151.18 L121.09,152.18 L121.18,153.19 L121.27,154.19 L121.36,155.20 L121.45,156.20 L121.54,157.21 L121.63,158.22 L121.72,159.22 L121.81,160.23 L121.91,161.24 L122.01,162.25 L122.10,163.25 L122.20,164.26 L122.30,165.27 L122.40,166.28 L122.51,167.29 L122.61,168.31 L122.71,169.32 L122.80,170.30 L133.90,170.30 L135.30,169.10 L136.90,172.30 L138.70,168.60 L140.50,172.00 L142.10,170.30 L155.10,170.30 L155.59,169.46 L155.90,168.47 L156.20,167.48 L156.50,166.49 L156.80,165.51 L157.09,164.52 L157.38,163.54 L157.66,162.56 L157.93,161.58 L158.21,160.60 L158.47,159.62 L158.73,158.64 L158.99,157.66 L159.25,156.68 L159.50,155.71 L159.74,154.73 L159.98,153.76 L160.22,152.78 L160.45,151.81 L160.68,150.83 L160.91,149.86 L161.13,148.89 L161.35,147.91 L161.56,146.94 L161.78,145.97 L161.98,144.99 L162.19,144.02 L162.39,143.05 L162.59,142.08 L162.79,141.10 L162.98,140.13 L163.17,139.15 L163.36,138.18 L163.55,137.20 L163.73,136.23 L163.91,135.25 L164.09,134.27 L164.27,133.29 L164.44,132.31 L164.62,131.33 L164.79,130.35 L164.96,129.37 L165.12,128.39 L165.29,127.40 L165.45,126.42 L165.62,125.43 L165.78,124.44 L165.94,123.45 L166.10,122.46 L166.25,121.47 L166.41,120.47 L166.57,119.48 L166.72,118.48 L166.88,117.48 L167.03,116.48 L167.18,115.47 L167.34,114.47 L167.49,113.46 L167.64,112.45 L167.80,111.44 L167.95,110.43 L168.10,109.41 L168.26,108.40 L168.42,107.39 L168.57,106.37 L168.73,105.36 L168.89,104.34 L169.06,103.32 L169.22,102.31 L169.39,101.29 L169.56,100.27 L169.74,99.26 L169.92,98.24 L170.10,97.23 L170.28,96.22 L170.47,95.21 L170.66,94.19 L170.86,93.18 L171.06,92.18 L171.27,91.17 L171.48,90.17 L171.69,89.16 L171.91,88.16 L172.14,87.16 L172.37,86.17 L172.61,85.17 L172.86,84.18 L173.11,83.20 L173.37,82.21 L173.63,81.23 L173.91,80.25 L174.19,79.28 L174.47,78.31 L174.77,77.34 L175.07,76.38 L175.38,75.42 L175.70,74.46 L176.03,73.51 L176.37,72.57 L176.72,71.63 L177.07,70.69 L177.44,69.76 L177.82,68.83 L178.20,67.91 L178.60,67.00 L179.01,66.09 L179.42,65.18 L179.85,64.28 L180.29,63.39 L180.74,62.51 L181.20,61.63 L181.68,60.76 L182.16,59.89 L182.66,59.03 L183.17,58.18 L183.70,57.33 L184.23,56.50 L184.78,55.67 L185.35,54.84 L185.92,54.03 L186.51,53.22 L187.12,52.42 L187.73,51.64 L188.36,50.86 L189.01,50.09 L189.66,49.33 L190.33,48.58 L191.01,47.84 L191.70,47.11 L192.41,46.40 L193.13,45.69 L193.86,45.00 L194.60,44.33 L195.36,43.66 L196.12,43.01 L196.90,42.37 L197.69,41.75 L198.50,41.14 L199.31,40.55 L200.13,39.98 L200.97,39.41 L201.81,38.87 L202.67,38.34 L203.53,37.82 L204.41,37.31 L205.29,36.83 L206.18,36.35 L207.08,35.89 L207.99,35.44 L208.91,35.01 L209.83,34.59 L210.76,34.19 L211.69,33.79 L212.64,33.42 L213.58,33.05 L214.54,32.70 L215.49,32.35 L216.46,32.02 L217.43,31.71 L218.40,31.40 L219.37,31.10 L220.35,30.81 L221.34,30.54 L222.32,30.27 L223.31,30.01 L224.30,29.76 L225.29,29.52 L226.29,29.28 L227.28,29.05 L228.28,28.83 L229.28,28.62 L230.28,28.41 L231.27,28.21 L232.27,28.01 L233.27,27.82 L234.27,27.63 L235.26,27.44 L236.26,27.26 L237.25,27.08 L238.24,26.91 L239.23,26.73 L240.22,26.56 L241.20,26.39 L242.18,26.22 L243.16,26.05 L244.13,25.88 L245.10,25.71 L246.06,25.54 L247.10,25.40 L248.10,25.27 L249.10,25.13 L250.10,25.00 L251.10,24.88 L252.10,24.77 L253.11,24.68 L254.12,24.60 L255.12,24.55 L256.13,24.52 L257.14,24.51 L258.14,24.54 L259.15,24.60 L260.15,24.70 L261.16,24.83 L262.16,25.00 L263.16,25.18 L264.16,25.35 L265.16,25.50 L266.16,25.62 L267.16,25.68 L268.16,25.70 L269.16,25.67 L270.16,25.59 L271.16,25.48 L272.16,25.34 L273.15,25.17 L274.15,24.98 L275.14,24.77 L276.12,24.55 L277.11,24.32 L278.09,24.09 L279.07,23.89 L280.06,23.72 L281.05,23.61 L282.05,23.53 L283.05,23.49 L284.06,23.47 L285.06,23.47 L286.07,23.46 L287.08,23.43 L288.09,23.38 L289.10,23.31 L290.10,23.22 L291.11,23.12 L292.11,23.01 L293.12,22.90 L294.12,22.80 L295.12,22.71 L296.13,22.63 L297.13,22.56 L298.13,22.49 L299.14,22.44 L300.14,22.38 L301.15,22.33 L302.15,22.27 L303.16,22.21 L304.16,22.14 L305.17,22.08 L306.18,22.01 L307.19,21.94 L308.19,21.87 L309.20,21.80 L310.21,21.73 L311.22,21.67 L312.22,21.61 L313.23,21.56 L314.24,21.52 L315.25,21.49 L316.26,21.46 L317.26,21.45 L318.27,21.44 L319.28,21.45 L320.29,21.47 L321.29,21.50 L322.30,21.53 L323.31,21.58 L324.31,21.63 L325.32,21.69 L326.33,21.75 L327.33,21.82 L328.34,21.89 L329.34,21.97 L330.35,22.05 L331.35,22.14 L332.36,22.22 L333.36,22.31 L334.37,22.40 L335.37,22.49 L336.38,22.57 L337.38,22.66 L338.39,22.75 L339.39,22.83 L340.39,22.91 L341.40,22.98 L342.40,23.06 L343.41,23.12 L344.41,23.18 L345.41,23.24 L346.42,23.29 L347.42,23.34 L348.43,23.37 L349.43,23.40 L350.44,23.42 L351.44,23.44 L352.45,23.44 L353.46,23.44 L354.47,23.43 L355.48,23.40 L356.48,23.37 L357.49,23.33 L358.51,23.29 L359.52,23.24 L360.53,23.19 L361.54,23.15 L362.55,23.10 L363.56,23.07 L364.57,23.04 L365.57,23.02 L366.58,23.01 L367.59,23.02 L368.59,23.05 L369.59,23.09 L370.59,23.16 L371.59,23.24 L372.59,23.36 L373.59,23.50 L374.58,23.67 L375.57,23.85 L376.56,24.01 L377.55,24.13 L378.54,24.19 L379.54,24.19 L380.53,24.12 L381.53,23.98 L382.52,23.78 L383.51,23.51 L384.50,23.20"/>
<text x="53.2" y="19.60" text-anchor="end">1</text>
<text x="53.2" y="50.66" text-anchor="end">0.8</text>
<text x="53.2" y="81.71" text-anchor="end">0.6</text>
<text x="53.2" y="112.77" text-anchor="end">0.4</text>
<text x="53.2" y="143.83" text-anchor="end">0.2</text>
<text x="53.2" y="174.89" text-anchor="end">0</text>
<text x="53.2" y="205.94" text-anchor="end">-0.2</text>
<text x="53.2" y="237.00" text-anchor="end">-0.4</text>
<text x="77.95" y="249.75" font-size="12.6" text-anchor="middle">-2</text>
<text x="139.57" y="249.75" font-size="12.6" text-anchor="middle">0</text>
<text x="201.19" y="249.75" font-size="12.6" text-anchor="middle">2</text>
<text x="262.81" y="249.75" font-size="12.6" text-anchor="middle">4</text>
<text x="324.43" y="249.75" font-size="12.6" text-anchor="middle">6</text>
<text x="386.05" y="249.75" font-size="12.6" text-anchor="middle">8</text>
<text x="328.3" y="189.70" text-anchor="end" font-size="12.55">l=0</text>
<path class="r lg" d="M336.2,185.5H369.4"/>
<text x="328.3" y="202.30" text-anchor="end" font-size="12.55">l=0.14</text>
<path class="g lg" d="M336.2,198.1H369.4"/>
<text x="328.3" y="214.70" text-anchor="end" font-size="12.55">l=0.29</text>
<path class="b lg" d="M336.2,210.5H369.4"/>
<text x="328.3" y="227.00" text-anchor="end" font-size="12.55">l=0.60</text>
<path class="m1" d="M336.2,222.8H369.4"/>
<path class="m lg" d="M336.2,222.8H369.4"/>
<text transform="translate(14.3,123.7) rotate(-90)" text-anchor="middle">u</text>
<text x="202.3" y="267.6" font-size="12.6">(x-x<tspan dy="3.7" font-size="10.1">0</tspan><tspan dy="-3.7">)/d</tspan></text>
</svg>
</body></html>
